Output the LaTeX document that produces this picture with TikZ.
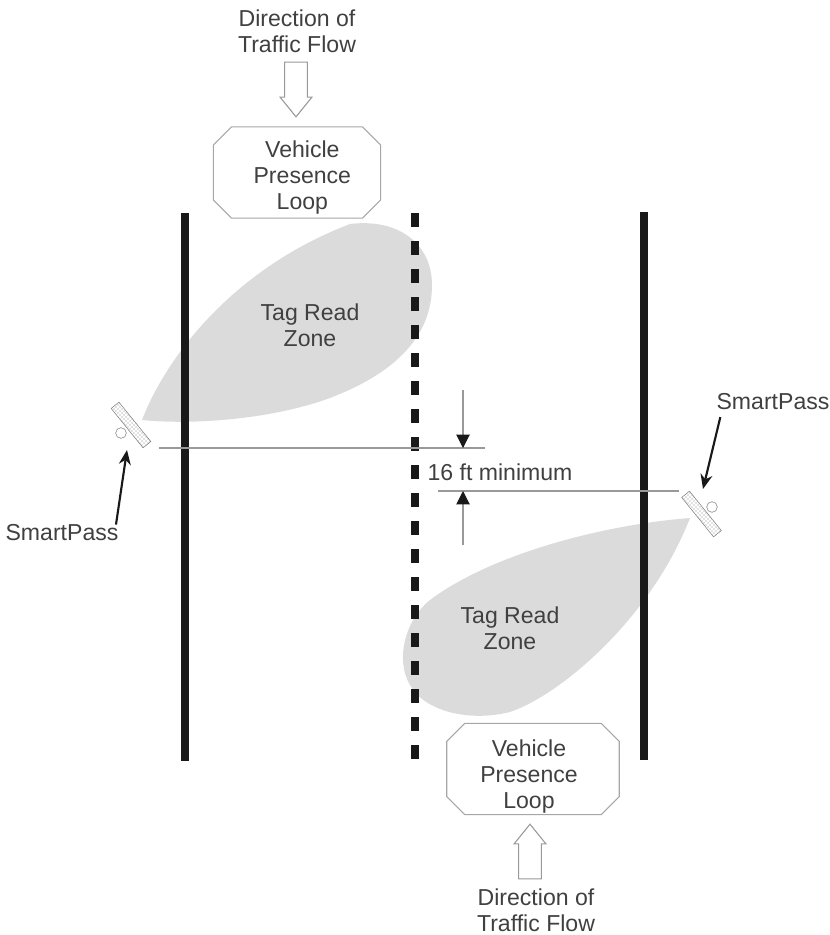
\documentclass[tikz,border=0pt]{standalone}
\usepackage{fontspec}
\setmainfont{Liberation Sans}
\usetikzlibrary{arrows.meta,shapes.arrows,patterns}
\newcommand{\loopoutline}[1]{\draw[loop line] ([xshift=13.5pt]#1.north west) -- ([xshift=-13.5pt]#1.north east) -- ([yshift=-13.5pt]#1.north east) -- ([yshift=13.5pt]#1.south east) -- ([xshift=-13.5pt]#1.south east) -- ([xshift=13.5pt]#1.south west) -- ([yshift=13.5pt]#1.south west) -- ([yshift=-13.5pt]#1.north west) -- cycle;}

\begin{document}
\begin{tikzpicture}[x=0.75pt,y=-0.75pt,align=center,font=\fontsize{17.3}{19.5}\selectfont,text=black!75,
	every node/.style={inner sep=0pt},
	loop box/.style={minimum height=68pt},
	loop line/.style={draw=black!35,thick},
	flow arrow/.style={draw=black!40,thick,fill=white,single arrow,inner sep=8pt,minimum height=41pt,minimum width=24pt,single arrow head extend=3.5pt,single arrow tip angle=78},
	lane line/.style={line width=5.6pt,black!90},
	zone/.style={fill=black!14},
	reader/.style={draw=black!50,pattern=crosshatch dots,pattern color=black!50,rotate=-51,minimum width=38pt,minimum height=7.5pt},
	reader eye/.style={circle,draw=black!50,fill=white,minimum size=8pt},
	thin line/.style={draw=black!40,thick},
	pointer/.style={-{Stealth[length=11pt,width=9pt]},black!90,line width=1.6pt},
	measure/.style={-{Triangle[black!90,length=10pt,width=10pt]},black!40,thick}]
\useasboundingbox (0,0) rectangle (830,935);

% read zones
\path[zone] (142,420) .. controls (165,360) and (230,270) .. (350,224) .. controls (400,218) and (432,245) .. (432,285) .. controls (432,340) and (390,375) .. (330,398) .. controls (270,420) and (190,425) .. (142,420);
\path[zone] (690,518) .. controls (600,525) and (490,555) .. (430,600) .. controls (405,620) and (395,660) .. (410,685) .. controls (425,712) and (470,722) .. (510,712) .. controls (560,695) and (650,620) .. (690,518);

% lanes
\coordinate (left top) at (185,213);
\coordinate (left bottom) at (185,761);
\coordinate (middle top) at (415,213);
\coordinate (middle bottom) at (415,761);
\coordinate (right top) at (644,212);
\coordinate (right bottom) at (644,760);
\draw[lane line] (left top) -- (left bottom);
\draw[lane line,dash pattern=on 10.5pt off 10.5pt] (middle top) -- (middle bottom);
\draw[lane line] (right top) -- (right bottom);

% top half
\node (top flow) at (297,31) {Direction of \\ Traffic Flow};
\node[flow arrow,shape border rotate=270] (top arrow) at (296,82.5) {};
\node[loop box,minimum width=125pt,label={[xshift=4pt,yshift=-3.5pt]center:Vehicle \\ Presence \\ Loop}] (top loop) at (297,172.5) {};
\loopoutline{top loop}
\node (top zone) at (310,325) {Tag Read \\ Zone};
\node[reader] (left reader) at (131,425) {};
\node[reader eye] (left eye) at (121,433) {};
\node (left pass) at (62,533) {SmartPass};

% bottom half
\node (bottom flow) at (536,910) {Direction of \\ Traffic Flow};
\node[loop box,minimum width=129pt,label={[xshift=-3pt,yshift=-5.5pt]center:Vehicle \\ Presence \\ Loop}] (bottom loop) at (533,769) {};
\loopoutline{bottom loop}
\node[flow arrow,shape border rotate=90] (bottom arrow) at (530,858.5) {};
\node (bottom zone) at (510,628) {Tag Read \\ Zone};
\node[reader] (right reader) at (701.5,514) {};
\node[reader eye] (right eye) at (712,507) {};
\node (right pass) at (773,402) {SmartPass};

% sixteen foot gap
\node (gap label) at (500,472) {16 ft minimum};
\coordinate (gap a start) at (159,448);
\coordinate (gap a end) at (485,448);
\coordinate (gap b start) at (438,491);
\coordinate (gap b end) at (679,491);
\coordinate (gap a arrow) at (463,448);
\coordinate (gap b arrow) at (463,491);
\coordinate (gap a tail) at (463,390);
\coordinate (gap b tail) at (463,545);
\coordinate (left tip) at (127,450);
\coordinate (right tip) at (703,489);
\draw[thin line] (gap a start) -- (gap a end);
\draw[thin line] (gap b start) -- (gap b end);
\draw[measure] (gap a tail) -- (gap a arrow);
\draw[measure] (gap b tail) -- (gap b arrow);

\draw[pointer] ([xshift=-2pt]left pass.north east) -- (left tip);
\draw[pointer] ([xshift=3pt,yshift=-5pt]right pass.south west) -- (right tip);

\end{tikzpicture}
\end{document}
